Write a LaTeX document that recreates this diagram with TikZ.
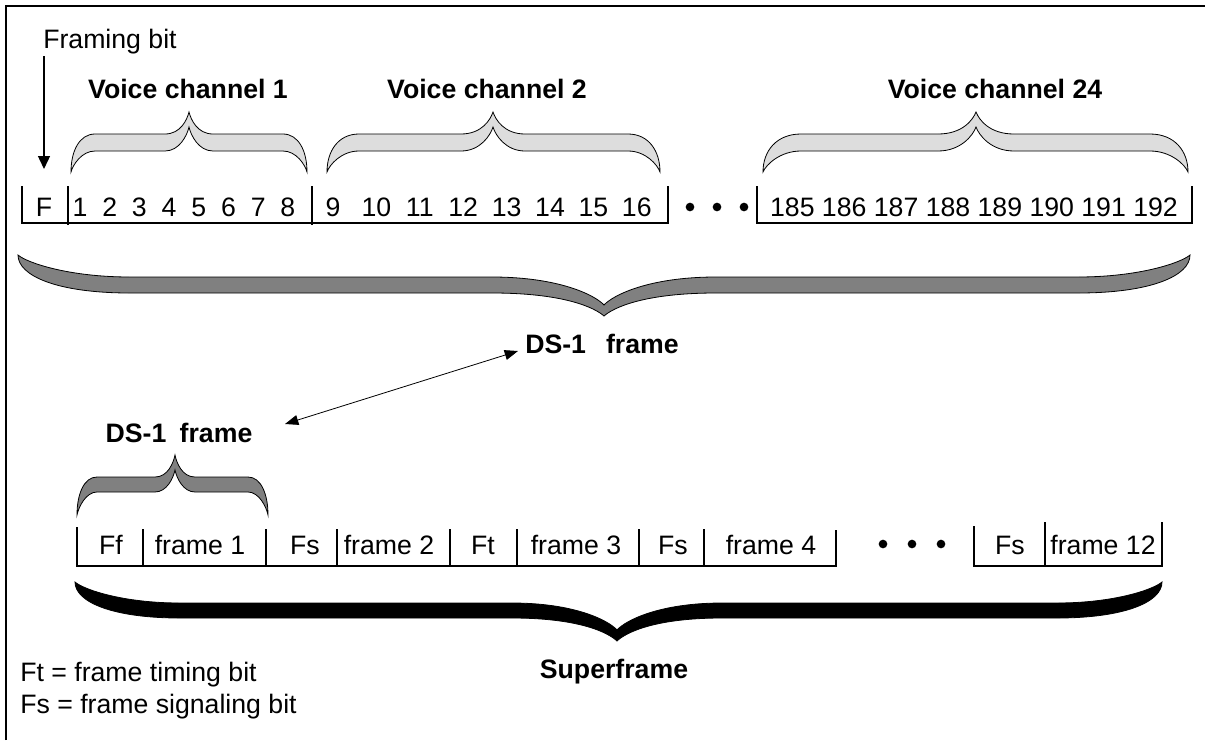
\documentclass[tikz,border=0pt]{standalone}
\usepackage{fontspec}
\setmainfont{Liberation Sans}
\usetikzlibrary{arrows.meta}
% #1 L, #2 R, #3 C, #4 endY, #5 inner band y, #6 outer band y, #7 tip y, #8 notch y, #9 curve length
\newcommand\bracepath[9]{%
 ({#1},{#4}) .. controls ({#1},{#4+0.55*(#6-#4)}) and ({#1+0.35*#9},{#6}) .. ({#1+#9},{#6}) -- ({#3-#9},{#6})
 .. controls ({#3-0.35*#9},{#6}) and ({#3-0.08*#9},{#7-0.35*(#7-#6)}) .. ({#3},{#7})
 .. controls ({#3+0.08*#9},{#7-0.35*(#7-#6)}) and ({#3+0.35*#9},{#6}) .. ({#3+#9},{#6}) -- ({#2-#9},{#6})
 .. controls ({#2-0.35*#9},{#6}) and ({#2},{#4+0.55*(#6-#4)}) .. ({#2},{#4})
 .. controls ({#2-0.08*#9},{#4+0.35*(#5-#4)}) and ({#2-0.45*#9},{#5}) .. ({#2-#9},{#5}) -- ({#3+#9},{#5})
 .. controls ({#3+0.4*#9},{#5}) and ({#3+0.08*#9},{#8-0.35*(#8-#5)}) .. ({#3},{#8})
 .. controls ({#3-0.08*#9},{#8-0.35*(#8-#5)}) and ({#3-0.4*#9},{#5}) .. ({#3-#9},{#5}) -- ({#1+#9},{#5})
 .. controls ({#1+0.45*#9},{#5}) and ({#1+0.08*#9},{#4+0.35*(#5-#4)}) .. cycle}
\definecolor{lightfill}{RGB}{221,221,221}
\definecolor{darkfill}{RGB}{128,128,128}
\begin{document}
\begin{tikzpicture}[x=0.75pt,y=-0.75pt,
  txt/.style={inner sep=0pt,anchor=base,font=\fontsize{20}{24}\selectfont},
  lbl/.style={txt,font=\fontsize{20}{24}\selectfont\bfseries},
  row/.style={line width=1pt},
  lbrace/.style={draw=black,line width=0.6pt,fill=lightfill},
  dbrace/.style={draw=black,line width=0.6pt,fill=darkfill},
  kbrace/.style={draw=black,line width=0.6pt,fill=black},
  dotn/.style={circle,fill=black,inner sep=0pt,minimum size=6.5pt},
  bigtip/.style={-{Triangle[length=9.75pt,width=9pt]},line width=1pt},
  dbl/.style={{Triangle[length=10pt,width=7.5pt]}-{Triangle[length=10pt,width=7.5pt]},line width=0.6pt}]
\useasboundingbox (0,0) rectangle (1206,740);
% frame
\draw[line width=1.2pt] (6,740) -- (6,6) -- (1205,6);

% framing bit
\node[txt,anchor=base west] (fb) at (43,48) {Framing bit};
\coordinate (fbs) at (44,56);
\coordinate (fbe) at (44,169);
\draw[bigtip] (fbs) -- (fbe);

% voice channel labels
\node[lbl] (vc1) at (188,98) {Voice channel 1};
\node[lbl] (vc2) at (487,98) {Voice channel 2};
\node[lbl] (vc24) at (995,98) {Voice channel 24};

% small braces
\draw[lbrace] \bracepath{71}{307}{189}{172}{151}{134}{112}{127}{24};
\draw[lbrace] \bracepath{327}{660}{493}{172}{151}{134}{112}{127}{32};
\draw[lbrace] \bracepath{763}{1188}{976}{172}{151}{134}{112}{127}{38};

% top row
\draw[row] (22,186) -- (22,223) -- (668,223) -- (668,186);
\draw[row] (68,186) -- (68,225);
\draw[row] (312,186) -- (312,225);
\draw[row] (757,186) -- (757,223) -- (1192,223) -- (1192,186);
\node[txt] (F) at (44,216) {F};
\foreach \i in {1,...,8} \node[txt] (b\i) at ({80+29.7*(\i-1)},216) {\i};
\foreach \i in {9,...,16} \node[txt] (b\i) at ({333+43.4*(\i-9)},216) {\i};
\node[txt] (ch24) at (974,216) {185 186 187 188 189 190 191 192};
\node[dotn] (td1) at (690,207) {};
\node[dotn] (td2) at (717,207) {};
\node[dotn] (td3) at (744,207) {};

% DS-1 frame brace
\draw[dbrace] \bracepath{18}{1190}{604}{255}{277}{293}{316}{305}{112};
\node[lbl] (dsA) at (602,353) {DS-1\hspace{0.75em}frame};
\node[lbl] (dsB) at (179,442) {DS-1\hspace{0.5em}frame};
\coordinate (aA) at (518,351);
\coordinate (aB) at (285,424);
\draw[dbl] (aB) -- (aA);

% small DS-1 brace
\draw[dbrace] \bracepath{77}{268}{175}{515}{492}{477}{455}{470}{20};

% bottom row
\draw[row] (77,527) -- (77,566) -- (836,566) -- (836,530);
\foreach \x in {143,266,337,450,517,639,704} \draw[row] (\x,529) -- (\x,566);
\draw[row] (974,526) -- (974,566) -- (1162,566) -- (1162,522);
\draw[row] (1045,522) -- (1045,566);
\node[txt] (s1) at (111,554) {Ff};
\node[txt] (s2) at (200,554) {frame 1};
\node[txt] (s3) at (305,554) {Fs};
\node[txt] (s4) at (389,554) {frame 2};
\node[txt] (s5) at (483,554) {Ft};
\node[txt] (s6) at (576,554) {frame 3};
\node[txt] (s7) at (673,554) {Fs};
\node[txt] (s8) at (771,554) {frame 4};
\node[txt] (s9) at (1010,554) {Fs};
\node[txt] (s10) at (1103,554) {frame 12};
\node[dotn] (bd1) at (883,544) {};
\node[dotn] (bd2) at (912,544) {};
\node[dotn] (bd3) at (941,544) {};

% superframe brace
\draw[kbrace] \bracepath{75}{1162}{617}{582}{603}{618}{641}{630}{105};
\node[lbl] (sf) at (614,678) {Superframe};

% legend
\node[txt,anchor=base west] (l1) at (20,681) {Ft = frame timing bit};
\node[txt,anchor=base west] (l2) at (20,713) {Fs = frame signaling bit};
\end{tikzpicture}
\end{document}
